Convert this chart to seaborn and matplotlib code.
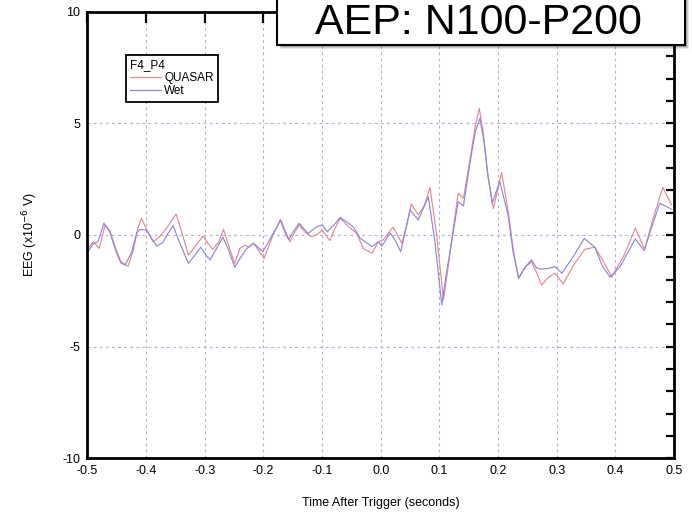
import matplotlib
matplotlib.use("Agg")
import matplotlib.pyplot as plt
import matplotlib.ticker as mticker
from matplotlib.patches import Rectangle
import numpy as np
import pandas as pd
import seaborn as sns

# QUASAR (dry) sensor trace, F4_P4
quasar_t = [-0.499, -0.490, -0.480, -0.475, -0.470, -0.462, -0.452, -0.443, -0.431, -0.422,
            -0.414, -0.408, -0.400, -0.388, -0.378, -0.365, -0.349, -0.340, -0.328, -0.316,
            -0.303, -0.294, -0.286, -0.276, -0.268, -0.259, -0.249, -0.240, -0.232, -0.225,
            -0.217, -0.208, -0.199, -0.185, -0.171, -0.163, -0.155, -0.147, -0.139, -0.130,
            -0.119, -0.109, -0.100, -0.087, -0.078, -0.069, -0.058, -0.041, -0.030, -0.015,
            -0.004, 0.004, 0.021, 0.033, 0.036, 0.044, 0.052, 0.064, 0.074, 0.084,
            0.095, 0.107, 0.115, 0.121, 0.132, 0.141, 0.152, 0.161, 0.168, 0.175,
            0.182, 0.192, 0.206, 0.217, 0.226, 0.235, 0.246, 0.257, 0.266, 0.274,
            0.286, 0.297, 0.311, 0.330, 0.348, 0.365, 0.380, 0.394, 0.415, 0.434,
            0.450, 0.465, 0.481, 0.496]
quasar_v = [-0.60, -0.30, -0.60, -0.10, 0.45, 0.20, -0.60, -1.20, -1.40, -0.70,
            0.30, 0.75, 0.30, -0.30, -0.10, 0.30, 0.94, 0.20, -0.90, -0.50,
            -0.05, -0.40, -0.64, -0.30, 0.25, -0.50, -1.27, -0.60, -0.45, -0.55,
            -0.37, -0.70, -1.05, -0.10, 0.70, 0.20, -0.30, 0.10, 0.45, 0.15,
            -0.07, 0.00, 0.22, -0.25, 0.30, 0.75, 0.45, 0.07, -0.60, -0.82,
            -0.30, -0.22, 0.35, -0.22, -0.37, 0.40, 1.39, 0.90, 1.30, 2.13,
            0.07, -2.90, -1.42, -0.22, 1.87, 1.64, 3.36, 4.85, 5.67, 4.55,
            2.80, 1.19, 2.79, 1.12, -0.67, -1.94, -1.45, -1.20, -1.70, -2.24,
            -1.90, -1.71, -2.19, -1.30, -0.64, -0.55, -1.20, -1.89, -0.90, 0.30,
            -0.64, 0.80, 2.13, 1.34]

# Wet electrode trace, F4_P4
wet_t = [-0.499, -0.490, -0.482, -0.472, -0.462, -0.452, -0.443, -0.436, -0.425, -0.416,
         -0.410, -0.400, -0.392, -0.382, -0.372, -0.362, -0.354, -0.345, -0.328, -0.318,
         -0.307, -0.298, -0.291, -0.280, -0.269, -0.259, -0.249, -0.240, -0.228, -0.217,
         -0.201, -0.187, -0.171, -0.163, -0.157, -0.148, -0.139, -0.130, -0.124, -0.109,
         -0.100, -0.091, -0.078, -0.069, -0.047, -0.035, -0.015, -0.004, 0.002, 0.016,
         0.026, 0.034, 0.050, 0.064, 0.081, 0.092, 0.104, 0.112, 0.121, 0.132,
         0.141, 0.152, 0.161, 0.169, 0.176, 0.183, 0.190, 0.203, 0.217, 0.226,
         0.235, 0.246, 0.257, 0.265, 0.272, 0.285, 0.297, 0.309, 0.330, 0.347,
         0.365, 0.378, 0.391, 0.408, 0.434, 0.449, 0.465, 0.476, 0.496]
wet_v = [-0.75, -0.40, -0.30, 0.53, 0.15, -0.70, -1.25, -1.35, -0.80, 0.10,
         0.25, 0.22, -0.10, -0.50, -0.35, 0.10, 0.42, -0.20, -1.27, -0.95,
         -0.55, -0.90, -1.12, -0.60, -0.10, -0.70, -1.45, -1.05, -0.60, -0.37,
         -0.75, -0.10, 0.65, 0.10, -0.20, 0.20, 0.52, 0.25, 0.07, 0.37,
         0.45, 0.15, 0.50, 0.79, 0.37, -0.15, -0.52, -0.30, -0.50, 0.10,
         -0.30, -0.75, 1.12, 0.67, 1.71, -0.22, -3.13, -1.71, -0.30, 1.49,
         1.30, 3.20, 4.60, 5.22, 4.20, 2.60, 1.42, 2.39, 0.90, -0.80,
         -1.94, -1.45, -1.12, -1.45, -1.53, -1.50, -1.42, -1.71, -0.90, -0.15,
         -0.55, -1.40, -1.89, -1.42, -0.18, -0.70, 0.60, 1.42, 1.15]

series_names = ["QUASAR", "Wet"]
series_colors = ["#e38a92", "#8c88dc"]

df = pd.concat([
    pd.DataFrame({"t": quasar_t, "v": quasar_v, "sensor": "QUASAR"}),
    pd.DataFrame({"t": wet_t, "v": wet_v, "sensor": "Wet"}),
])

sns.set_style("white")
plt.rcParams["font.family"] = ["Liberation Sans", "DejaVu Sans"]
plt.rcParams["axes.unicode_minus"] = False
plt.rcParams["text.color"] = "black"
plt.rcParams["axes.labelcolor"] = "black"
plt.rcParams["xtick.labelcolor"] = "black"
plt.rcParams["ytick.labelcolor"] = "black"

fig = plt.figure(figsize=(6.92, 5.19), dpi=100)
ax = fig.add_axes([0.1264, 0.117, 0.8476, 0.8605])

sns.lineplot(data=df, x="t", y="v", hue="sensor", hue_order=series_names,
             palette=series_colors, estimator=None, sort=False,
             linewidth=0.85, ax=ax)

ax.set_xlim(-0.5, 0.5)
ax.set_ylim(-10, 10)

# ticks inward on all four sides
ax.xaxis.set_major_locator(mticker.MultipleLocator(0.1))
ax.xaxis.set_major_formatter(mticker.FormatStrFormatter("%.1f"))
ax.yaxis.set_major_locator(mticker.MultipleLocator(5))
ax.yaxis.set_minor_locator(mticker.MultipleLocator(1))
ax.tick_params(axis="both", which="both", direction="in", top=True, right=True,
               width=1.6, color="black", labelcolor="black", labelsize=9, pad=5)
ax.tick_params(axis="x", which="major", length=8)
ax.tick_params(axis="y", which="both", length=6)

for s in ax.spines.values():
    s.set_color("black")
    s.set_linewidth(2)

# dashed lavender grid
for xv in np.arange(-0.4, 0.45, 0.1):
    ax.axvline(xv, color="#b4aed8", linestyle=(0, (2.5, 3)), linewidth=0.8, zorder=0)
for yv in [-5, 0, 5]:
    ax.axhline(yv, color="#b4aed8", linestyle=(0, (2.5, 3)), linewidth=0.8, zorder=0)

ax.set_xlabel("Time After Trigger (seconds)", fontsize=9, labelpad=14, color="black")
ax.set_ylabel("EEG (x10$^{-6}$ V)", fontsize=9, labelpad=16, color="black")

leg = ax.legend(title="F4_P4", loc="upper left", bbox_to_anchor=(0.0656, 0.903),
                borderaxespad=0, fancybox=False, edgecolor="black", framealpha=1,
                fontsize=8.5, title_fontsize=8.5, handlelength=2.6, handletextpad=0.3,
                labelspacing=0.1, borderpad=0.35, alignment="left")
leg.get_frame().set_linewidth(1.3)
for line in leg.get_lines():
    line.set_linewidth(0.9)
for txt in leg.get_texts():
    txt.set_color("black")
leg.get_title().set_color("black")

# title box with soft shadow at the top right
for i, a in enumerate([0.10, 0.12, 0.15, 0.18]):
    off = (4 - i) / 692
    fig.patches.append(Rectangle((277 / 692 + off, 1 - 45 / 519 - (4 - i) / 519),
                                 408 / 692, 60 / 519, transform=fig.transFigure,
                                 facecolor="black", alpha=a, edgecolor="none", zorder=5))
fig.patches.append(Rectangle((277 / 692, 1 - 45 / 519), 408 / 692, 60 / 519,
                             transform=fig.transFigure, facecolor="white",
                             edgecolor="black", linewidth=1.5, zorder=6))
fig.text(478.5 / 692, 1 - 34 / 519, "AEP: N100-P200", fontsize=31, ha="center",
         va="baseline", color="black", zorder=7)

fig.savefig("out.png", dpi=100)
